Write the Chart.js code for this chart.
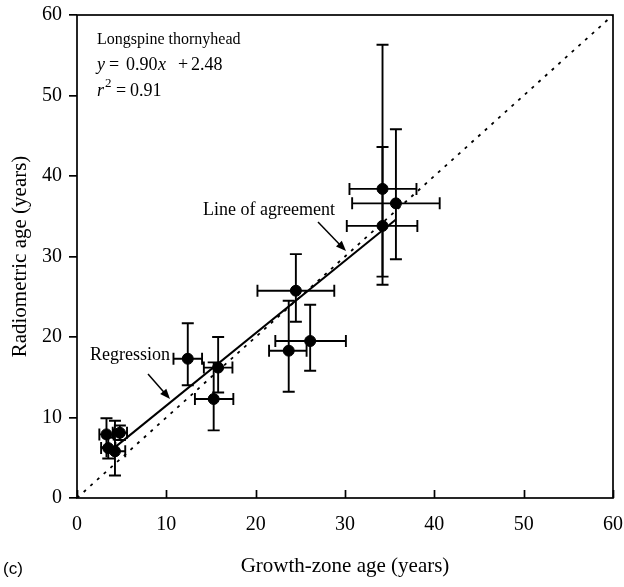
<!DOCTYPE html>
<html>
<head>
<meta charset="utf-8">
<script src="https://cdn.jsdelivr.net/npm/chart.js@4.4.1/dist/chart.umd.min.js"></script>
<style>
    html, body { margin: 0; padding: 0; background: #fff; }
    canvas { display: block; }
</style>
</head>
<body>
<canvas id="chart" width="624" height="587"></canvas>
<script>
// growth-zone age (x) and radiometric age (y), years
const growthAge = [3.3, 4.8, 3.5, 4.25, 12.4, 15.8, 15.3, 24.5, 26.1, 23.7, 34.2, 35.7, 34.2];
const radioAge  = [7.9, 8.1, 6.2, 5.8, 17.3, 16.2, 12.3, 25.75, 19.5, 18.3, 38.4, 36.6, 33.8];
// error bar ends
const growthLow  = [2.5, 4.0, 2.7, 3.3, 10.8, 14.2, 13.2, 20.2, 22.2, 21.5, 30.5, 30.8, 30.2];
const growthHigh = [4.1, 5.6, 4.3, 5.4, 14.0, 17.4, 17.5, 28.8, 30.1, 25.7, 38.0, 40.6, 38.1];
const radioLow   = [6.3, 7.2, 4.9, 2.8, 14.0, 13.1, 8.4, 21.9, 15.8, 13.2, 26.5, 29.65, 27.5];
const radioHigh  = [9.9, 9.0, 7.5, 9.6, 21.7, 20.0, 16.85, 30.3, 24.0, 24.5, 56.3, 45.8, 43.6];

const regressionX = [4.3, 35.7];
const regressionY = [6.35, 34.6];
const agreementX = [0, 60];
const agreementY = [0, 60];

const axisTicks = [0, 10, 20, 30, 40, 50, 60];

const serif = "'Liberation Serif', 'Times New Roman', serif";

function toPoints(xs, ys) {
    return xs.map((x, i) => ({ x: x, y: ys[i] }));
}

function drawArrow(ctx, x1, y1, x2, y2) {
    const ang = Math.atan2(y2 - y1, x2 - x1);
    const head = 11, spread = 0.38;
    ctx.beginPath();
    ctx.moveTo(x1, y1);
    ctx.lineTo(x2 - Math.cos(ang) * head * 0.8, y2 - Math.sin(ang) * head * 0.8);
    ctx.stroke();
    ctx.beginPath();
    ctx.moveTo(x2, y2);
    ctx.lineTo(x2 - head * Math.cos(ang - spread), y2 - head * Math.sin(ang - spread));
    ctx.lineTo(x2 - head * Math.cos(ang + spread), y2 - head * Math.sin(ang + spread));
    ctx.closePath();
    ctx.fill();
}

const errorBars = {
    id: 'errorBars',
    beforeDatasetsDraw(chart) {
        const { ctx, scales: { x, y } } = chart;
        const cap = 6;
        ctx.save();
        ctx.strokeStyle = '#000';
        ctx.lineWidth = 1.9;
        growthAge.forEach((gx, i) => {
            const px = x.getPixelForValue(gx);
            const py = y.getPixelForValue(radioAge[i]);
            const x0 = x.getPixelForValue(growthLow[i]);
            const x1 = x.getPixelForValue(growthHigh[i]);
            const y0 = y.getPixelForValue(radioLow[i]);
            const y1 = y.getPixelForValue(radioHigh[i]);
            ctx.beginPath();
            ctx.moveTo(x0, py); ctx.lineTo(x1, py);
            ctx.moveTo(x0, py - cap); ctx.lineTo(x0, py + cap);
            ctx.moveTo(x1, py - cap); ctx.lineTo(x1, py + cap);
            ctx.moveTo(px, y0); ctx.lineTo(px, y1);
            ctx.moveTo(px - cap, y0); ctx.lineTo(px + cap, y0);
            ctx.moveTo(px - cap, y1); ctx.lineTo(px + cap, y1);
            ctx.stroke();
        });
        ctx.restore();
    }
};

const frameAndNotes = {
    id: 'frameAndNotes',
    afterDraw(chart) {
        const { ctx, chartArea: a, scales: { x } } = chart;
        ctx.save();
        ctx.strokeStyle = '#000';
        ctx.fillStyle = '#000';
        ctx.lineWidth = 1.7;
        ctx.strokeRect(a.left, a.top, a.right - a.left, a.bottom - a.top);

        // inward ticks on the x axis
        ctx.beginPath();
        for (const t of axisTicks) {
            const px = Math.round(x.getPixelForValue(t)) + 0.5;
            ctx.moveTo(px, a.bottom);
            ctx.lineTo(px, a.bottom - 8);
        }
        ctx.stroke();

        ctx.textBaseline = 'alphabetic';
        ctx.textAlign = 'left';
        ctx.font = '16px ' + serif;
        ctx.fillText('Longspine thornyhead', 97, 44);

        // y = 0.90x + 2.48
        const roman = '18px ' + serif, italic = 'italic 18px ' + serif;
        ctx.font = italic;
        ctx.fillText('y', 97, 70);
        ctx.fillText('x', 158, 70);
        ctx.font = roman;
        ctx.fillText('=', 109, 70);
        ctx.fillText('0.90', 126, 70);
        ctx.fillText('+', 178, 70);
        ctx.fillText('2.48', 191, 70);

        // r2 = 0.91
        ctx.font = italic;
        ctx.fillText('r', 97, 96);
        ctx.font = '13px ' + serif;
        ctx.fillText('2', 105, 87);
        ctx.font = roman;
        ctx.fillText('=', 116, 96);
        ctx.fillText('0.91', 130, 96);

        ctx.font = '18px ' + serif;
        ctx.fillText('Line of agreement', 203, 215);
        ctx.fillText('Regression', 90, 360);

        ctx.lineWidth = 1.5;
        drawArrow(ctx, 318, 222, 346, 251);
        drawArrow(ctx, 148, 374, 170, 399);

        ctx.font = '17px "Liberation Sans", Arial, sans-serif';
        ctx.fillText('(c)', 3, 574);
        ctx.restore();
    }
};

new Chart(document.getElementById('chart'), {
    type: 'scatter',
    data: {
        datasets: [
            {
                label: 'Samples',
                data: toPoints(growthAge, radioAge),
                backgroundColor: '#000',
                borderColor: '#000',
                pointRadius: 5.5,
                order: 0
            },
            {
                type: 'line',
                label: 'Regression',
                data: toPoints(regressionX, regressionY),
                borderColor: '#000',
                borderWidth: 2,
                pointRadius: 0,
                fill: false,
                order: 1
            },
            {
                type: 'line',
                label: 'Line of agreement',
                data: toPoints(agreementX, agreementY),
                borderColor: '#000',
                borderWidth: 1.8,
                borderDash: [3, 6],
                pointRadius: 0,
                fill: false,
                order: 2
            }
        ]
    },
    options: {
        responsive: false,
        animation: false,
        layout: { padding: { top: 15, right: 11, left: 0, bottom: 0 } },
        plugins: {
            legend: { display: false },
            tooltip: { enabled: false }
        },
        scales: {
            x: {
                type: 'linear',
                min: 0,
                max: 60,
                afterFit: s => { s.height = 89; s.paddingLeft = 0; s.paddingRight = 0; },
                afterBuildTicks: s => { s.ticks = axisTicks.map(v => ({ value: v })); },
                grid: { display: false, drawTicks: false },
                border: { display: false },
                ticks: {
                    color: '#000',
                    padding: 15,
                    font: { family: serif, size: 20 }
                },
                title: {
                    display: true,
                    text: 'Growth-zone age (years)',
                    color: '#000',
                    font: { family: serif, size: 21 },
                    padding: { top: 0, bottom: 8 }
                }
            },
            y: {
                type: 'linear',
                min: 0,
                max: 60,
                afterFit: s => { s.width = 77; s.paddingTop = 0; s.paddingBottom = 0; },
                afterBuildTicks: s => { s.ticks = axisTicks.map(v => ({ value: v })); },
                grid: {
                    drawOnChartArea: false,
                    color: '#000',
                    lineWidth: 1.7,
                    tickLength: 8
                },
                border: { display: false },
                ticks: {
                    color: '#000',
                    padding: 7,
                    font: { family: serif, size: 20 }
                },
                title: {
                    display: true,
                    text: 'Radiometric age (years)',
                    color: '#000',
                    font: { family: serif, size: 21 },
                    padding: { top: 8, bottom: 0 }
                }
            }
        }
    },
    plugins: [errorBars, frameAndNotes]
});
</script>
</body>
</html>
